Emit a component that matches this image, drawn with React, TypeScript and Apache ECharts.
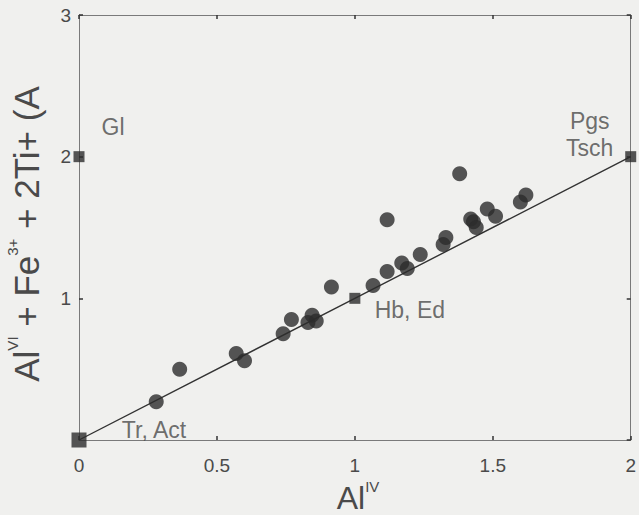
import React, { useEffect, useRef } from "react";
import * as echarts from "echarts";

// Measured analyses: Al(IV) vs Al(VI) + Fe3+ + 2Ti + (A)
const sampleX = [0.28, 0.365, 0.57, 0.6, 0.74, 0.77, 0.83, 0.845, 0.86, 0.915, 1.066, 1.117, 1.117, 1.17, 1.19, 1.237, 1.32, 1.33, 1.38, 1.42, 1.43, 1.44, 1.48, 1.51, 1.6, 1.62];
const sampleY = [0.27, 0.5, 0.61, 0.56, 0.75, 0.85, 0.83, 0.88, 0.84, 1.08, 1.09, 1.555, 1.19, 1.25, 1.21, 1.31, 1.38, 1.43, 1.88, 1.56, 1.54, 1.5, 1.63, 1.58, 1.68, 1.73];

// End members
const endMemberNames = ["Tr, Act", "Hb, Ed", "Pgs\nTsch", "Gl"];
const endMemberX = [0, 1, 2, 0];
const endMemberY = [0, 1, 2, 2];
const trendMembers = [0, 1, 2]; // joined by the substitution line

// Axis ticks
const xTicks = [0, 0.5, 1, 1.5, 2];
const yTicks = [0, 1, 2, 3];

const FONT = "'Liberation Sans', Arial, Helvetica, sans-serif";
const TEXT = "#4a4a4a";
const INK = "#2c2c2c";

export default function App() {
  const ref = useRef<HTMLDivElement>(null);

  useEffect(() => {
    document.body.style.margin = "0";
    const el = ref.current!;
    const chart = echarts.init(el, null, { renderer: "svg" });

    const squareSize = [15, 11, 11, 11];
    const labelOffset: [number, number][] = [
      [75, -10],
      [55, 12],
      [-41, -22],
      [34, -30],
    ];

    const squares = endMemberNames.map((name, i) => ({
      name,
      value: [endMemberX[i], endMemberY[i]],
      symbolSize: squareSize[i],
      label: {
        show: true,
        position: "inside",
        formatter: name,
        offset: labelOffset[i],
        fontSize: 23,
        lineHeight: 27,
        color: TEXT,
        fontFamily: FONT,
        align: "center",
        verticalAlign: "middle",
      },
    }));

    const axisCommon = {
      type: "value" as const,
      axisLine: { show: true, onZero: false, lineStyle: { color: "#7a7a7a", width: 1 } },
      axisTick: { show: true, inside: true, length: 4, lineStyle: { color: "#333", width: 1.5 } },
      splitLine: { show: false },
    };

    chart.setOption({
      animation: false,
      backgroundColor: "#f0f0ee",
      grid: { left: 79, right: 5, top: 15, bottom: 75 },
      xAxis: [
        {
          ...axisCommon,
          min: xTicks[0],
          max: xTicks[xTicks.length - 1],
          interval: 0.5,
          position: "bottom",
          axisLabel: {
            fontSize: 19,
            color: TEXT,
            fontFamily: FONT,
            margin: 16,
            formatter: (v: number) => String(v),
          },
        },
        {
          ...axisCommon,
          min: xTicks[0],
          max: xTicks[xTicks.length - 1],
          interval: 0.5,
          position: "top",
          axisLabel: { show: false },
        },
      ],
      yAxis: [
        {
          ...axisCommon,
          min: yTicks[0],
          max: yTicks[yTicks.length - 1],
          interval: 1,
          position: "left",
          axisLabel: {
            fontSize: 19,
            color: TEXT,
            fontFamily: FONT,
            margin: 8,
            showMinLabel: false,
          },
        },
        {
          ...axisCommon,
          min: yTicks[0],
          max: yTicks[yTicks.length - 1],
          interval: 1,
          position: "right",
          axisLabel: { show: false },
        },
      ],
      series: [
        {
          type: "line",
          data: trendMembers.map((i) => [endMemberX[i], endMemberY[i]]),
          showSymbol: false,
          symbol: "none",
          lineStyle: { color: "#333", width: 1.4 },
          z: 2,
          silent: true,
        },
        {
          type: "scatter",
          data: sampleX.map((x, i) => [x, sampleY[i]]),
          symbol: "circle",
          symbolSize: 15,
          itemStyle: { color: INK },
          z: 3,
          clip: false,
        },
        {
          type: "scatter",
          data: squares,
          symbol: "rect",
          itemStyle: { color: INK },
          z: 4,
          clip: false,
        },
      ],
      graphic: [
        {
          type: "text",
          x: 26,
          y: 234,
          rotation: Math.PI / 2,
          style: {
            text: "{a|Al}{s|VI}{a| + Fe}{s|3+}{a| + 2Ti+ (A}",
            align: "center",
            verticalAlign: "middle",
            rich: {
              a: { fontSize: 35, lineHeight: 42, fontFamily: FONT, fill: TEXT, color: TEXT },
              s: { fontSize: 15, lineHeight: 24, verticalAlign: "top", fontFamily: FONT, fill: TEXT, color: TEXT },
            },
          },
        },
        {
          type: "text",
          x: 358,
          y: 498,
          style: {
            text: "{a|Al}{s|IV}",
            align: "center",
            verticalAlign: "middle",
            rich: {
              a: { fontSize: 32, lineHeight: 38, fontFamily: FONT, fill: TEXT, color: TEXT },
              s: { fontSize: 15, lineHeight: 20, verticalAlign: "top", fontFamily: FONT, fill: TEXT, color: TEXT },
            },
          },
        },
      ],
    });

    return () => chart.dispose();
  }, []);

  return <div ref={ref} style={{ width: 639, height: 515 }} />;
}
